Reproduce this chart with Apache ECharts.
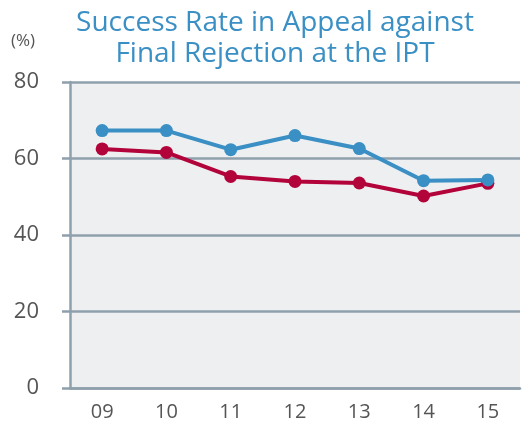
<!DOCTYPE html>
<html>
<head>
<meta charset="utf-8">
<script src="https://cdn.jsdelivr.net/npm/echarts@6/dist/echarts.min.js"></script>
<style>
  html, body { margin: 0; padding: 0; background: #fff; }
  #chart { width: 529px; height: 430px; }
</style>
</head>
<body>
<div id="chart"></div>
<script>
// data
var years = ["09", "10", "11", "12", "13", "14", "15"];
var blueRate = [67.3, 67.3, 62.3, 66.0, 62.6, 54.2, 54.4];
var redRate = [62.5, 61.6, 55.3, 54.0, 53.6, 50.2, 53.5];
var yTicks = [0, 20, 40, 60, 80];

var axisGray = "#8fa0ad";
var chart = echarts.init(document.getElementById("chart"));

var option = {
  animation: false,
  title: {
    text: "Success Rate in Appeal against\nFinal Rejection at the IPT",
    left: 270,
    textAlign: "center",
    top: 3,
    textStyle: {
      color: "#3a8fc4",
      fontFamily: "Open Sans",
      fontWeight: "normal",
      fontSize: 28,
      lineHeight: 31
    }
  },
  graphic: [
    {
      type: "text",
      left: 11,
      top: 33,
      style: { text: "(%)", fill: "#555", font: "17px 'Open Sans'" }
    }
  ],
  grid: {
    left: 70,
    right: 9,
    top: 82,
    bottom: 42,
    show: true,
    backgroundColor: "#eeeff1",
    borderWidth: 0
  },
  xAxis: {
    type: "category",
    data: years,
    boundaryGap: true,
    axisLine: { lineStyle: { color: axisGray, width: 2.5 } },
    axisTick: { alignWithLabel: true, length: 8, lineStyle: { color: axisGray, width: 2.5 } },
    axisLabel: { color: "#555", fontSize: 20, fontFamily: "Open Sans", margin: 14 }
  },
  yAxis: {
    type: "value",
    min: yTicks[0],
    max: yTicks[yTicks.length - 1],
    interval: 20,
    axisLine: { show: true, lineStyle: { color: axisGray, width: 2.5 } },
    axisTick: { show: true, length: 8, lineStyle: { color: axisGray, width: 2.5 } },
    splitLine: { lineStyle: { color: axisGray, width: 2.5 } },
    axisLabel: { color: "#555", fontSize: 22, fontFamily: "Open Sans", margin: 31 }
  },
  series: [
    {
      name: "red",
      type: "line",
      data: redRate,
      symbol: "circle",
      symbolSize: 13,
      lineStyle: { color: "#b2033a", width: 4 },
      itemStyle: { color: "#b2033a" }
    },
    {
      name: "blue",
      type: "line",
      data: blueRate,
      symbol: "circle",
      symbolSize: 13,
      lineStyle: { color: "#3a8fc4", width: 4 },
      itemStyle: { color: "#3a8fc4" }
    }
  ]
};

chart.setOption(option);
</script>
</body>
</html>
